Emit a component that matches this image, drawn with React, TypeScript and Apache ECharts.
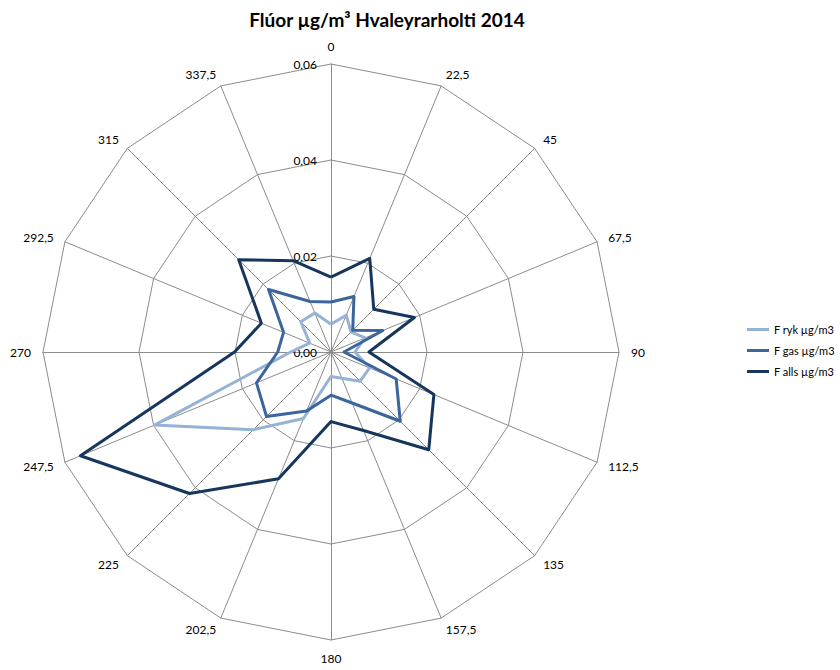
import React, { useEffect, useRef } from "react";
import * as echarts from "echarts";

const directions = ["0", "22,5", "45", "67,5", "90", "112,5", "135", "157,5", "180", "202,5", "225", "247,5", "270", "292,5", "315", "337,5"];
const fRyk = [0.0058, 0.0083, 0.0059, 0.0077, 0.0050, 0.0087, 0.0086, 0.0059, 0.0051, 0.0150, 0.0229, 0.0398, 0.0084, 0.0048, 0.0089, 0.0088];
const fGas = [0.0104, 0.0125, 0.0064, 0.0117, 0.0027, 0.0147, 0.0204, 0.0115, 0.0090, 0.0133, 0.0190, 0.0168, 0.0111, 0.0107, 0.0184, 0.0114];
const fAlls = [0.0156, 0.0211, 0.0126, 0.0188, 0.0079, 0.0232, 0.0288, 0.0177, 0.0145, 0.0286, 0.0417, 0.0565, 0.0201, 0.0157, 0.0272, 0.0206];
const seriesNames = ["F ryk µg/m3", "F gas µg/m3", "F alls µg/m3"];
const colors = ["#95B3D7", "#3B659C", "#17365D"];
const axisMax = 0.06;
const titleText = "Flúor µg/m³ Hvaleyrarholti 2014";

const FONT = "Lato, 'Open Sans', sans-serif";

// ECharts radar lays indicators counter-clockwise; reorder to get clockwise compass
const order = directions.map((_, i) => (i === 0 ? 0 : directions.length - i));

export default function App() {
  const ref = useRef<HTMLDivElement>(null);
  useEffect(() => {
    if (!ref.current) return;
    const chart = echarts.init(ref.current, undefined, { renderer: "svg" });
    const indicator = order.map((idx, k) => {
      const ind: any = { name: directions[idx], min: 0, max: axisMax };
      if (k === 0) {
        ind.axisLabel = {
          show: true,
          color: "#000",
          fontSize: 12,
          fontFamily: FONT,
          margin: 14,
          formatter: (v: number) => v.toFixed(2).replace(".", ","),
        };
      }
      return ind;
    });
    const datasets = [fRyk, fGas, fAlls];
    chart.setOption({
      animation: false,
      backgroundColor: "#fff",
      title: {
        text: titleText,
        left: 382,
        top: 5,
        textAlign: "center",
        textStyle: { fontFamily: FONT, fontSize: 19, fontWeight: "bold", color: "#000" },
      },
      legend: {
        orient: "vertical",
        left: 742,
        top: 319,
        itemWidth: 22,
        itemHeight: 3,
        itemGap: 10,
        icon: "rect",
        textStyle: { fontFamily: FONT, fontSize: 11, color: "#000" },
        data: seriesNames,
      },
      radar: {
        center: [331, 352],
        radius: 288,
        shape: "polygon",
        startAngle: 90,
        splitNumber: 3,
        indicator,
        axisName: { color: "#000", fontSize: 12, fontFamily: FONT },
        nameGap: 12,
        axisLine: { lineStyle: { color: "#8c8c8c", width: 1 } },
        splitLine: { lineStyle: { color: "#8c8c8c", width: 1 } },
        splitArea: { show: false },
        axisTick: { show: false },
        axisLabel: { show: false },
      },
      series: [
        {
          type: "radar",
          symbol: "none",
          data: datasets.map((d, i) => ({
            name: seriesNames[i],
            value: order.map((idx) => d[idx]),
            lineStyle: { color: colors[i], width: 3 },
            itemStyle: { color: colors[i] },
          })),
        },
      ],
    });
    return () => chart.dispose();
  }, []);
  return <div ref={ref} style={{ position: "fixed", left: 0, top: 0, width: 840, height: 670 }} />;
}
